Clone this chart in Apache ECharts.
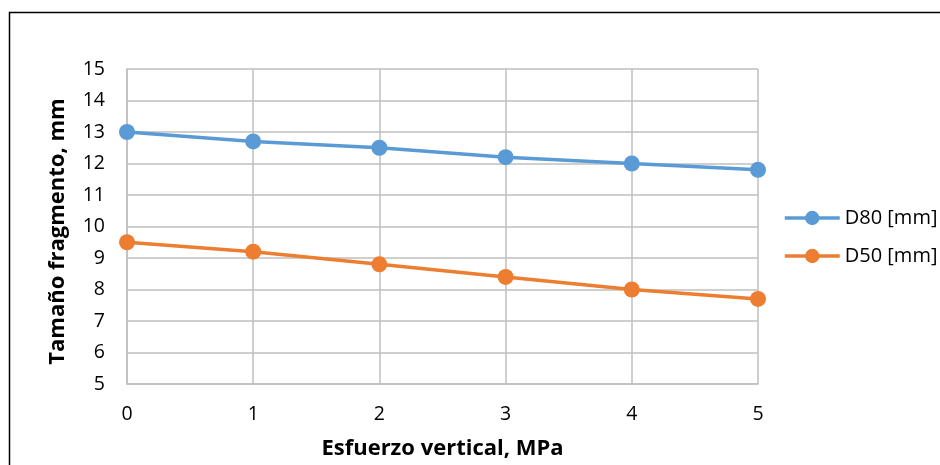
<!DOCTYPE html>
<html><head><meta charset="utf-8">
<script src="https://cdn.jsdelivr.net/npm/echarts@6/dist/echarts.min.js"></script>
<style>html,body{margin:0;padding:0;background:#fff}#c{width:940px;height:465px}</style>
</head><body><div id="c"></div>
<script>
const xValues = [0, 1, 2, 3, 4, 5];
const d80 = [13.0, 12.7, 12.5, 12.2, 12.0, 11.8];
const d50 = [9.5, 9.2, 8.8, 8.4, 8.0, 7.7];
const seriesNames = ['D80 [mm]', 'D50 [mm]'];
const FONT = '"Open Sans", sans-serif';
const chart = echarts.init(document.getElementById('c'), null, {renderer: 'canvas'});
const pair = (ys) => xValues.map((x, i) => [x, ys[i]]);
chart.setOption({
  animation: false,
  backgroundColor: '#fff',
  graphic: [{type: 'rect', shape: {x: 9.5, y: 12.5, width: 960, height: 480}, style: {fill: 'none', stroke: '#000', lineWidth: 1.5}, silent: true}],
  grid: {left: 127, top: 69, width: 631, height: 315, containLabel: false},
  xAxis: {
    type: 'value', min: 0, max: 5, interval: 1,
    name: 'Esfuerzo vertical, MPa', nameLocation: 'middle', nameGap: 54,
    nameTextStyle: {fontFamily: FONT, fontSize: 22, fontWeight: 'bold', color: '#000'},
    axisLine: {show: true, lineStyle: {color: '#BFBFBF', width: 1.5}},
    axisTick: {show: false},
    axisLabel: {fontFamily: FONT, fontSize: 19.5, color: '#000', margin: 20},
    splitLine: {show: true, lineStyle: {color: '#BFBFBF', width: 1.5}}
  },
  yAxis: {
    type: 'value', min: 5, max: 15, interval: 1,
    name: 'Tamaño fragmento, mm', nameLocation: 'middle', nameGap: 58, nameRotate: 90,
    nameTextStyle: {fontFamily: FONT, fontSize: 22, fontWeight: 'bold', color: '#000', padding: [0, 10, 0, 0]},
    axisLine: {show: true, lineStyle: {color: '#BFBFBF', width: 1.5}},
    axisTick: {show: false},
    axisLabel: {fontFamily: FONT, fontSize: 19.5, color: '#000', margin: 22},
    splitLine: {show: true, lineStyle: {color: '#BFBFBF', width: 1.5}}
  },
  legend: {
    orient: 'vertical', left: 778, top: 203, itemGap: 18,
    itemWidth: 55, itemHeight: 18,
    lineStyle: {width: 3.5},
    textStyle: {fontFamily: FONT, fontSize: 20, color: '#000'},
    data: seriesNames
  },
  series: [
    {name: seriesNames[0], type: 'line', data: pair(d80), color: '#5B9BD5',
     lineStyle: {width: 3.5}, symbol: 'circle', symbolSize: 16, itemStyle: {color: '#5B9BD5'}},
    {name: seriesNames[1], type: 'line', data: pair(d50), color: '#ED7D31',
     lineStyle: {width: 3.5}, symbol: 'circle', symbolSize: 16, itemStyle: {color: '#ED7D31'}}
  ]
});
</script></body></html>
